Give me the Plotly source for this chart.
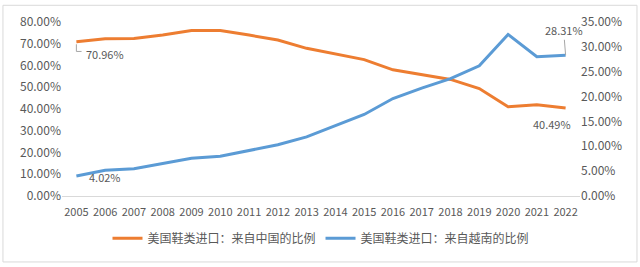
import plotly.graph_objects as go

years = [str(y) for y in range(2005, 2023)]
china_share = [70.96, 72.3, 72.4, 74.0, 76.1, 76.1, 74.0, 71.7, 67.9, 65.2, 62.7, 58.0, 55.7, 53.6, 49.4, 41.0, 41.9, 40.49]
vietnam_share = [4.02, 5.17, 5.5, 6.5, 7.6, 8.0, 9.15, 10.3, 11.9, 14.1, 16.4, 19.6, 21.7, 23.6, 26.2, 32.5, 28.0, 28.31]
left_ticks = [0, 10, 20, 30, 40, 50, 60, 70, 80]
right_ticks = [0, 5, 10, 15, 20, 25, 30, 35]
name_cn = "美国鞋类进口：来自中国的比例"
name_vn = "美国鞋类进口：来自越南的比例"

ORANGE = "#ED7D31"
BLUE = "#5B9BD5"
GREY = "#595959"
FONT = "Noto Sans CJK SC, Noto Sans, sans-serif"

fig = go.Figure()
fig.add_trace(go.Scatter(x=years, y=[v / 100 for v in china_share], name=name_cn,
                         mode="lines", line=dict(color=ORANGE, width=3), yaxis="y"))
fig.add_trace(go.Scatter(x=years, y=[v / 100 for v in vietnam_share], name=name_vn,
                         mode="lines", line=dict(color=BLUE, width=3), yaxis="y2"))

first, last = 0, len(years) - 1
lab_font = dict(size=11, color=GREY, family=FONT)
fig.add_annotation(x=first, y=china_share[first] / 100, xref="x", yref="y",
                   text=f"{china_share[first]:.2f}%", showarrow=False,
                   xanchor="left", xshift=8, yshift=-12, font=lab_font)
fig.add_annotation(x=first, y=vietnam_share[first] / 100, xref="x", yref="y2",
                   text=f"{vietnam_share[first]:.2f}%", showarrow=False,
                   xanchor="left", xshift=11, yshift=-1, font=lab_font)
fig.add_annotation(x=last, y=vietnam_share[last] / 100, xref="x", yref="y2",
                   text=f"{vietnam_share[last]:.2f}%", showarrow=True, arrowhead=0,
                   arrowwidth=1, arrowcolor="#A6A6A6", ax=-2, ay=-25, font=lab_font)
fig.add_annotation(x=last, y=china_share[last] / 100, xref="x", yref="y",
                   text=f"{china_share[last]:.2f}%", showarrow=False,
                   xshift=-14, yshift=-16, font=lab_font)
# leader line for first label (L-shape)
lead_top = china_share[first] / 100 - 0.012
lead_bot = china_share[first] / 100 - 0.045
fig.add_shape(type="line", xref="x", yref="y", x0=first, x1=first,
              y0=lead_top, y1=lead_bot, line=dict(color="#A6A6A6", width=1))
fig.add_shape(type="line", xref="x", yref="y", x0=first, x1=first + 0.18,
              y0=lead_bot, y1=lead_bot, line=dict(color="#A6A6A6", width=1))

fig.update_layout(
    width=640, height=267,
    margin=dict(l=62, r=60, t=19, b=71),
    paper_bgcolor="white", plot_bgcolor="white",
    font=dict(family=FONT, size=11, color=GREY),
    showlegend=True,
    legend=dict(orientation="h", x=0.5, xanchor="center", y=-0.16, yanchor="top",
                font=dict(size=12, color=GREY, family=FONT)),
    xaxis=dict(type="category", range=[-0.5, len(years) - 0.5], showgrid=False,
               showline=True, linecolor="#D9D9D9", linewidth=1, ticks="",
               ticklabelstandoff=6,
               tickfont=dict(size=11, color=GREY, family=FONT)),
    yaxis=dict(range=[0, 0.8], tickvals=[t / 100 for t in left_ticks], tickformat=".2%",
               showgrid=False, zeroline=False, showline=False,
               tickfont=dict(size=12, color=GREY, family=FONT)),
    yaxis2=dict(range=[0, 0.35], tickvals=[t / 100 for t in right_ticks], tickformat=".2%",
                overlaying="y", side="right", showgrid=False, zeroline=False, showline=False,
                tickfont=dict(size=12, color=GREY, family=FONT)),
)
fig.add_shape(type="rect", xref="paper", yref="paper", x0=-0.114, x1=1.110, y0=-0.379, y1=1.096,
              line=dict(color="#D9D9D9", width=1), fillcolor="rgba(0,0,0,0)", layer="below")

fig.write_html("out.html")
